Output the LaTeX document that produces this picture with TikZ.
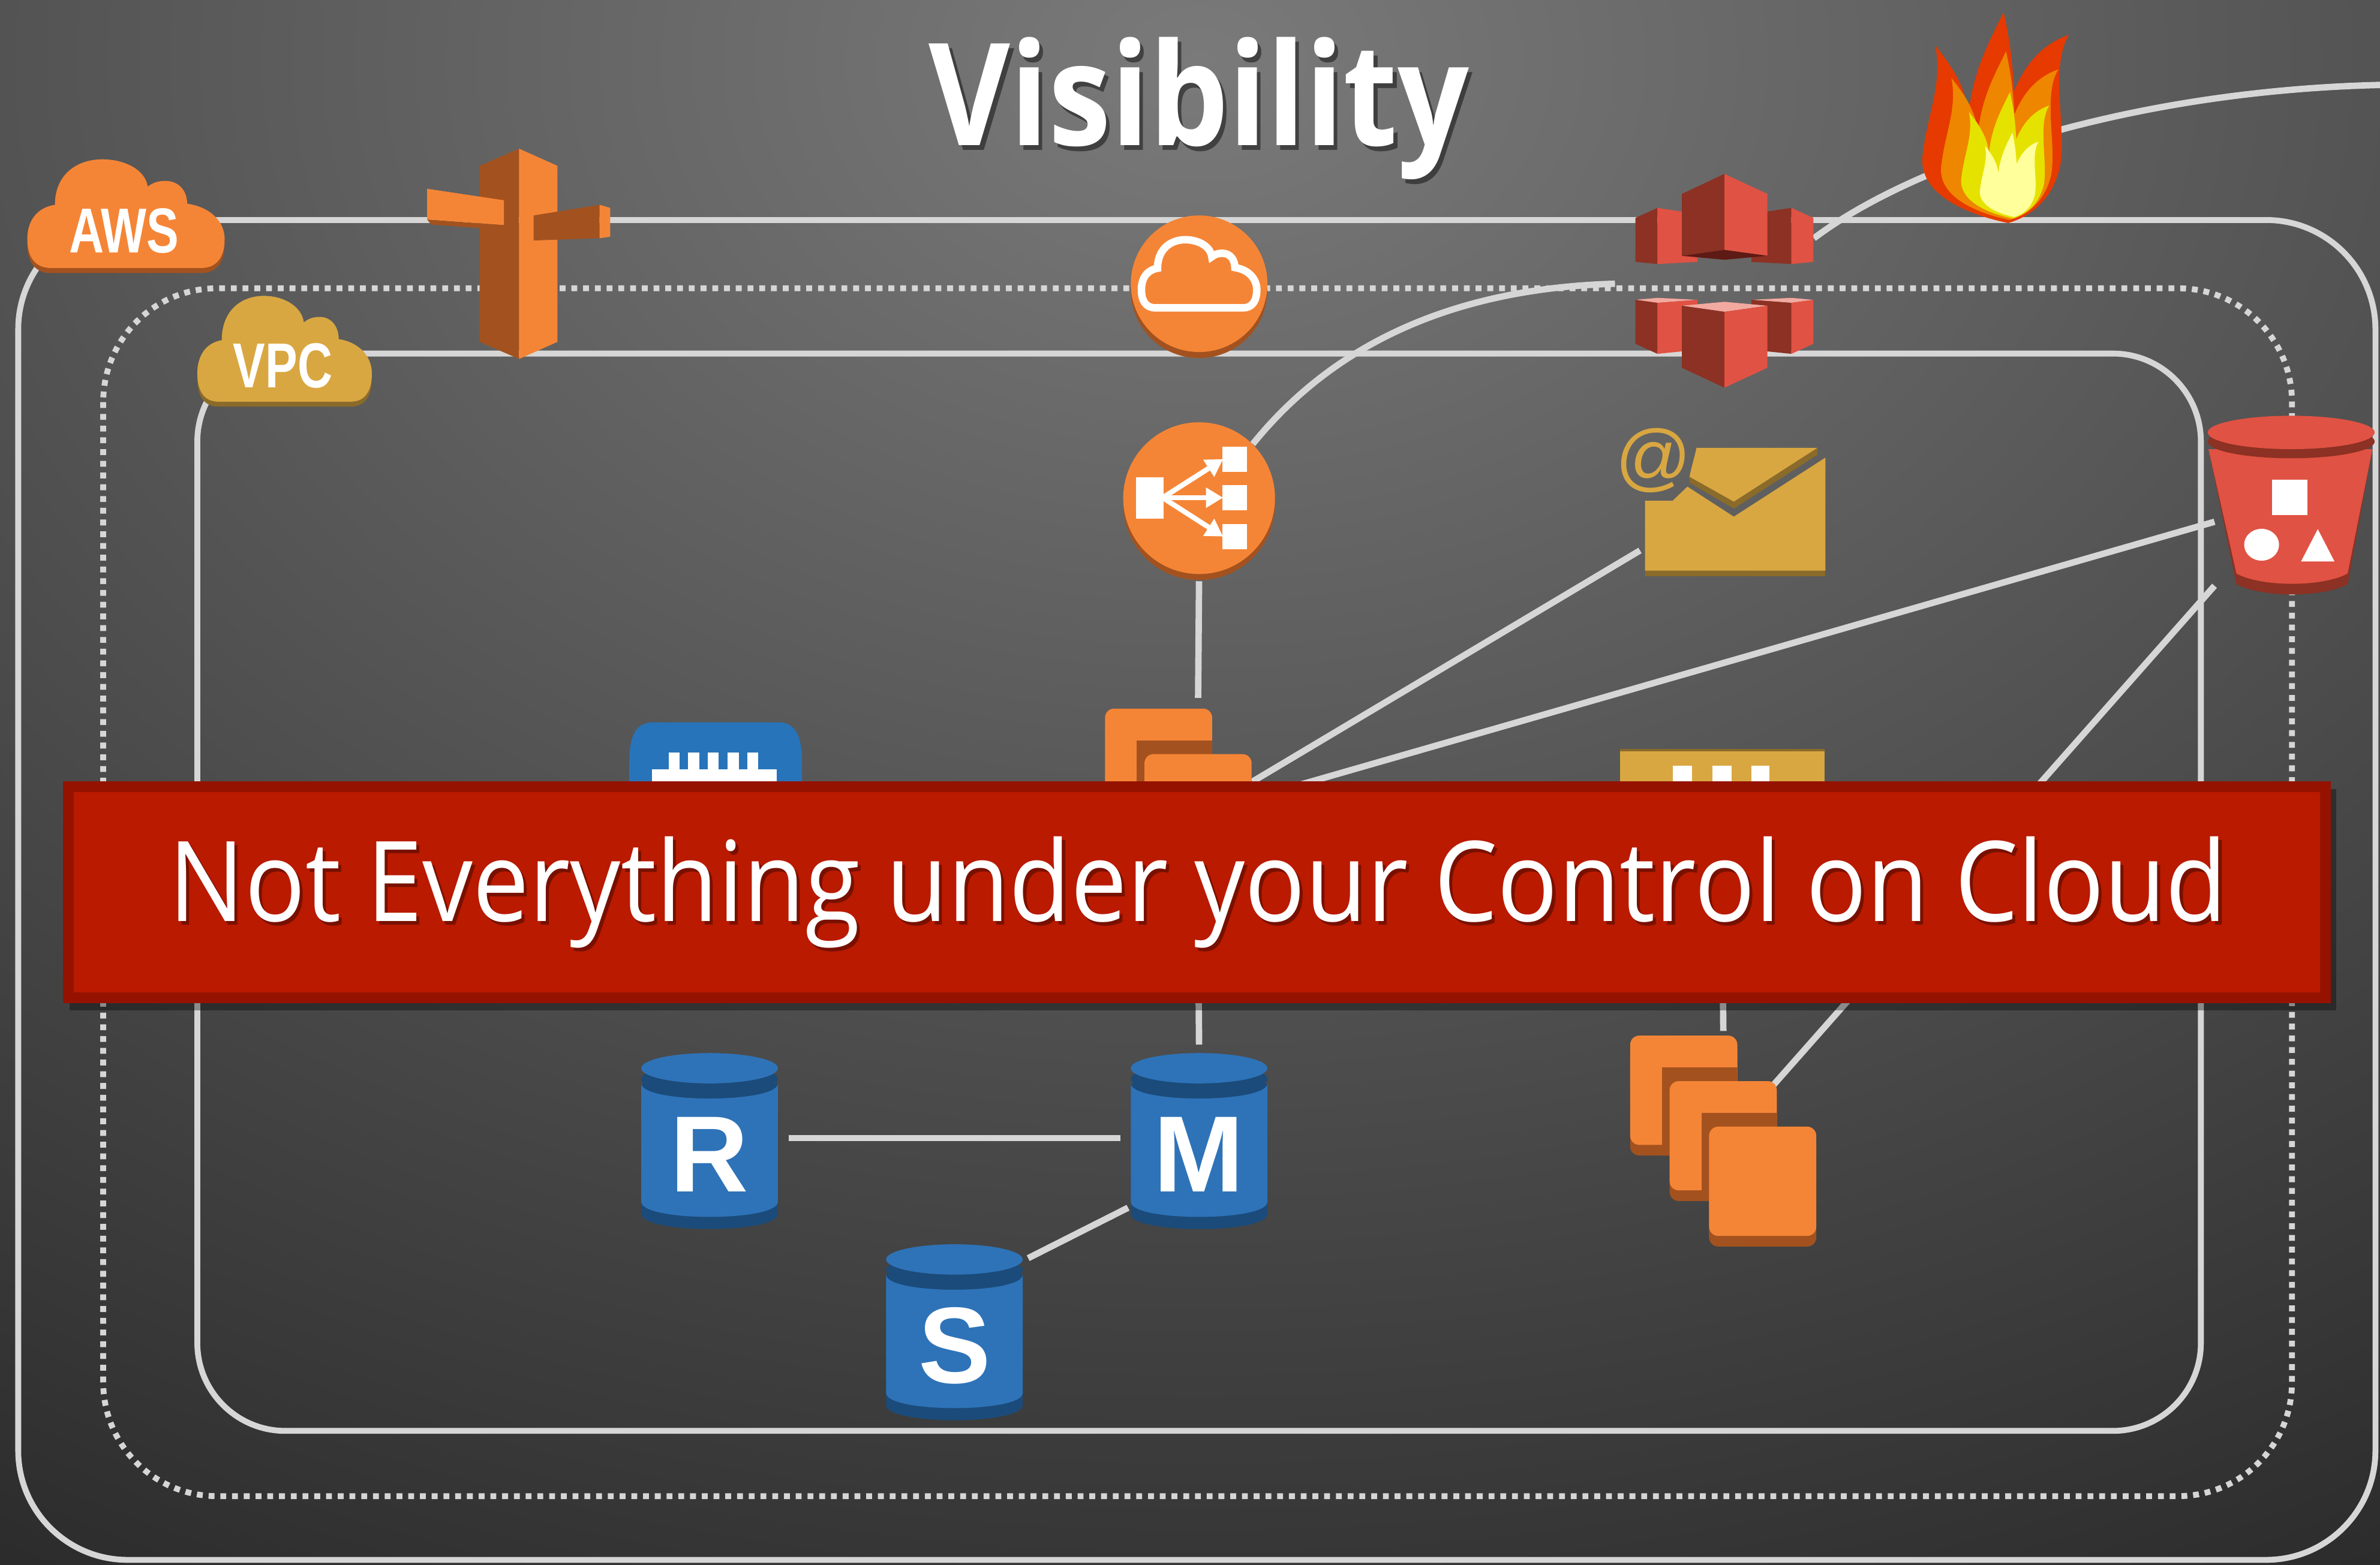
\documentclass[tikz,border=0pt]{standalone}
\usepackage{fontspec}
\setmainfont{Open Sans}
\newfontfamily\slidefont{Open Sans}[FakeStretch=0.88]
\newfontfamily\mottofont{Open Sans}[FakeStretch=0.90]
\newfontfamily\tagfont{Liberation Sans}[FakeStretch=0.76]
\newfontfamily\glyphfont{Liberation Sans}
\usetikzlibrary{arrows.meta}

\definecolor{bgLight}{HTML}{7A7A7A}
\definecolor{bgDark}{HTML}{2B2B2B}
\definecolor{wire}{HTML}{D6D6D6}
\definecolor{awsOrange}{HTML}{F58536}
\definecolor{awsRim}{HTML}{A3521F}
\definecolor{awsGold}{HTML}{D9A741}
\definecolor{goldRim}{HTML}{8A6B2A}
\definecolor{awsRed}{HTML}{E05243}
\definecolor{redRim}{HTML}{8C3123}
\definecolor{redDeep}{HTML}{5E1A14}
\definecolor{redPink}{HTML}{F2A9A0}
\definecolor{dbBlue}{HTML}{2E73B8}
\definecolor{dbRim}{HTML}{1B4B7A}
\definecolor{vpnBlue}{HTML}{2774BA}
\definecolor{bannerRed}{HTML}{B91A00}
\definecolor{bannerEdge}{HTML}{951200}
\definecolor{fireRed}{HTML}{E63A00}
\definecolor{fireOrange}{HTML}{EE8600}
\definecolor{fireYellow}{HTML}{E6E200}
\definecolor{firePale}{HTML}{FFFF9C}

\tikzset{
  % unit cloud, top left at (0,0), y pointing down
  puff/.style={insert path={(0.12,0.955) .. controls (0.04,0.955) and (0,0.86) .. (0,0.70)
    .. controls (0,0.52) and (0.06,0.42) .. (0.14,0.40)
    .. controls (0.14,0.12) and (0.26,0) .. (0.38,0)
    .. controls (0.50,0) and (0.60,0.10) .. (0.61,0.24)
    .. controls (0.64,0.20) and (0.67,0.19) .. (0.70,0.19)
    .. controls (0.77,0.19) and (0.81,0.28) .. (0.81,0.39)
    .. controls (0.93,0.42) and (1,0.55) .. (1,0.70)
    .. controls (1,0.86) and (0.96,0.955) .. (0.88,0.955) -- cycle}},
  pics/cloudtag/.style n args={3}{code={
    \fill[#2, shift={(0,0.045)}, puff];
    \fill[#1, puff];
    \node[tagtext] (-label) at (0.49,0.63) {#3};
  }},
  pics/flame/.style={code={
    \fill[#1] (0,0) .. controls (-33,-7) and (-61,-22) .. (-56,-47)
      .. controls (-53,-72) and (-43,-92) .. (-48,-117)
      .. controls (-36,-102) and (-28,-89) .. (-26,-72)
      .. controls (-23,-102) and (-11,-122) .. (-3,-139)
      .. controls (2,-117) and (3,-102) .. (4,-87)
      .. controls (12,-107) and (25,-119) .. (40,-124)
      .. controls (27,-102) and (39,-62) .. (34,-36)
      .. controls (29,-17) and (17,-5) .. (0,0) -- cycle;
  }},
  pics/instances/.style={code={
    \fill[awsRim, rounded corners=1.7pt] (0,7) rectangle ++(70.6,72);
    \fill[awsOrange, rounded corners=1.7pt] (0,0) rectangle ++(70.6,72);
    \foreach \k in {1,2} {
      \begin{scope}
        \clip[rounded corners=1.7pt] (26*\k-26,30*\k-30) rectangle ++(70.6,79);
        \fill[awsRim] (26*\k-5,30*\k-9) rectangle ++(70.6,79);
      \end{scope}
      \fill[awsRim, rounded corners=1.7pt] (26*\k,30*\k+7) rectangle ++(70.6,72);
      \fill[awsOrange, rounded corners=1.7pt] (26*\k,30*\k) rectangle ++(70.6,72);
    }
  }},
  pics/dbcyl/.style={code={
    \fill[dbRim] (-45,10) -- (45,10) -- (45,96) .. controls (45,109.3) and (-45,109.3) .. (-45,96) -- cycle;
    \fill[dbBlue] (-45,10) .. controls (-45,23.3) and (45,23.3) .. (45,10)
      -- (45,88) .. controls (45,101.3) and (-45,101.3) .. (-45,88) -- cycle;
    \fill[dbRim] (0,7) ellipse [x radius=45, y radius=10];
    \fill[dbBlue] (0,0) ellipse [x radius=45, y radius=10];
    \node[dbletter] (-letter) at (0,57) {#1};
  }},
}

\begin{document}
\begin{tikzpicture}[x=0.01cm, y=-0.01cm,
    frame/.style={draw=wire, line width=1.1pt},
    zone/.style={draw=wire, line width=1.1pt, dash pattern=on 1.1pt off 1.1pt},
    link/.style={draw=wire, line width=1.2pt},
    spot/.style={inner sep=0pt, outer sep=0pt},
    dbspot/.style={spot, minimum width=0.9cm, minimum height=1.17cm},
    tagtext/.style={text=white, inner sep=0pt, font=\tagfont\bfseries\fontsize{11.9}{12}\selectfont},
    dbletter/.style={text=white, inner sep=0pt, font=\glyphfont\bfseries\fontsize{20.3}{22}\selectfont},
    headline/.style={text=white, inner sep=0pt, font=\slidefont\bfseries\fontsize{26.7}{30}\selectfont},
    bannerline/.style={text=white, inner sep=0pt, font=\mottofont\fontsize{20.9}{24}\selectfont}]
  \useasboundingbox (0,0) rectangle (1568,1031);

  % backdrop
  \begin{scope}
    \clip (0,0) rectangle (1568,1031);
    \shade[inner color=bgLight, outer color=bgDark] (790,40) ellipse [x radius=1600, y radius=1150];
  \end{scope}

  % aws, zone and vpc borders
  \draw[frame, rounded corners=0.72cm] (12,145) rectangle (1565,1028);
  \draw[zone, rounded corners=0.75cm] (68,190) rectangle (1510,986);
  \draw[frame, rounded corners=0.58cm] (130,233) rectangle (1450,943);

  % where the connectors attach
  \node[spot, circle, minimum size=1cm] (elb) at (790,328) {};
  \node[spot, minimum width=1.226cm, minimum height=1.39cm] (inst) at (789.3,536.5) {};
  \node[spot, minimum width=1.1cm, minimum height=1cm] (mail) at (1135.5,330) {};
  \node[spot, minimum width=1cm, minimum height=1.15cm] (bucket) at (1509,329.5) {};
  \node[spot, minimum width=1.35cm, minimum height=0.93cm] (queue) at (1134.5,540) {};
  \node[spot, minimum width=1.228cm, minimum height=1.398cm] (ec2) at (1135.4,752.4) {};
  \node[spot, minimum width=1.18cm, minimum height=0.6cm] (stackTop) at (1136,144.5) {};
  \node[dbspot] (dbR) at (467.5,750) {};
  \node[dbspot] (dbM) at (790,750) {};
  \node[dbspot] (dbS) at (628.8,876) {};
  \coordinate (zoneEdge) at (1064,187);
  \coordinate (farEdge) at (1568,56);

  % connectors
  \draw[link] (stackTop.-12) .. controls (1260,108) and (1400,60) .. (farEdge);
  \draw[link] (elb.45) .. controls (880,225) and (960,190) .. (zoneEdge);
  \draw[link, shorten <=0.05cm, shorten >=0.07cm] (elb.south) -- (inst.north);
  \draw[link] (inst.center) -- (mail);
  \draw[link] (inst.center) -- (bucket);
  \draw[link] (bucket) -- (ec2.center);
  \draw[link, shorten >=0.03cm] (queue.south) -- (ec2.north);
  \draw[link, shorten >=0.03cm] (inst.south) -- (dbM.north);
  \draw[link, shorten <=0.07cm, shorten >=0.07cm] (dbR) -- (dbM);
  \draw[link, shorten <=0.02cm, shorten >=0.04cm] (dbM.225) -- (dbS.45);

  % aws and vpc tags
  \pic[shift={(18,105)}, xscale=130, yscale=75] (awsTag) {cloudtag={awsOrange}{awsRim}{AWS}};
  \pic[shift={(130,195)}, xscale=115, yscale=73] (vpcTag) {cloudtag={awsGold}{goldRim}{VPC}};

  % signpost
  \fill[awsRim] (342,98) -- (316,109.3) -- (316,225.3) -- (342,236.6) -- cycle;
  \fill[awsOrange] (342,98) -- (367.3,109.3) -- (367.3,225.3) -- (342,236.6) -- cycle;
  \fill[awsRim] (281.4,144.6) -- (332,148.3) -- (332,151.5) -- (284,148) -- cycle;
  \fill[awsOrange] (281.4,124.4) -- (332,132) -- (332,148.3) -- (281.4,144.6) -- cycle;
  \fill[awsRim] (351.5,142) -- (395,135) -- (395,157) -- (351.5,158.5) -- cycle;
  \fill[awsOrange] (395,135) -- (402,137) -- (402,156) -- (395,157) -- cycle;

  % cdn disc
  \fill[awsRim] (790,191) circle [radius=45];
  \fill[awsOrange] (790,187) circle [radius=45];
  \begin{scope}[shift={(752,158)}, xscale=76, yscale=47]
    \draw[white, line width=1.4pt, puff];
  \end{scope}

  % load balancer disc
  \fill[awsRim] (790,332.3) circle [radius=50];
  \fill[awsOrange] (790,328.3) circle [radius=50];
  \fill[white] (748.5,314.6) rectangle (766.6,341.8);
  \foreach \y in {294.4,319.7,345.4}
    \fill[white] (805.3,\y) rectangle ++(16.2,16.5);
  \foreach \y in {302.6,328,353.6}
    \draw[white, line width=0.95pt, -{Triangle[length=3.2pt,width=3.6pt]}] (766,328) -- (805.8,\y);

  % red stacks
  \fill[redRim] (1077.5,143.6) -- (1092,137) -- (1092,174) -- (1077.5,172.6) -- cycle;
  \fill[awsRed] (1092,137) -- (1118.3,141) -- (1118.3,172.6) -- (1092,174) -- cycle;
  \fill[redRim] (1153.9,141) -- (1180.2,137) -- (1180.2,174) -- (1153.9,172.6) -- cycle;
  \fill[awsRed] (1180.2,137) -- (1194.7,143.6) -- (1194.7,172.6) -- (1180.2,174) -- cycle;
  \fill[redRim] (1108.1,127.8) -- (1136.1,114.6) -- (1136.1,164.7) -- (1108.1,168.6) -- cycle;
  \fill[awsRed] (1136.1,114.6) -- (1164.4,127.8) -- (1164.4,168.6) -- (1136.1,164.7) -- cycle;
  \fill[redDeep] (1108.1,168.6) -- (1136.1,164.7) -- (1164.4,168.6) -- (1136.1,171.2) -- cycle;

  \fill[redPink] (1077.5,197.6) -- (1092,196.3) -- (1118.3,197.6) -- (1092,199.6) -- cycle;
  \fill[redRim] (1077.5,197.6) -- (1092,199.6) -- (1092,233.2) -- (1077.5,226.6) -- cycle;
  \fill[awsRed] (1092,199.6) -- (1118.3,197.6) -- (1118.3,230.5) -- (1092,233.2) -- cycle;
  \fill[redPink] (1153.9,197.6) -- (1180.2,196.3) -- (1194.7,197.6) -- (1180.2,199.6) -- cycle;
  \fill[redRim] (1153.9,197.6) -- (1180.2,199.6) -- (1180.2,233.2) -- (1153.9,230.5) -- cycle;
  \fill[awsRed] (1180.2,199.6) -- (1194.7,197.6) -- (1194.7,226.6) -- (1180.2,233.2) -- cycle;
  \fill[redPink] (1108.1,201.5) -- (1136.1,198.9) -- (1164.4,201.5) -- (1136.1,205.5) -- cycle;
  \fill[redRim] (1108.1,201.5) -- (1136.1,205.5) -- (1136.1,255.5) -- (1108.1,242.4) -- cycle;
  \fill[awsRed] (1136.1,205.5) -- (1164.4,201.5) -- (1164.4,242.4) -- (1136.1,255.5) -- cycle;

  % fire
  \pic[shift={(1323,147)}] {flame=fireRed};
  \pic[shift={(1324,145)}, scale=0.8] {flame=fireOrange};
  \pic[shift={(1326,144)}, scale=0.6] {flame=fireYellow};
  \pic[shift={(1327,143)}, scale=0.4] {flame=firePale};

  % bucket
  \fill[redRim] (1455,296) -- (1563,296) -- (1546.7,385) .. controls (1530,394) and (1490,394) .. (1473.4,385) -- cycle;
  \fill[awsRed] (1455,296) -- (1563,296) -- (1546.7,378) .. controls (1530,387) and (1490,387) .. (1473.4,378) -- cycle;
  \fill[redRim] (1509.5,291) ellipse [x radius=55, y radius=11];
  \fill[awsRed] (1509.5,285) ellipse [x radius=55, y radius=11];
  \fill[white] (1497,316) rectangle (1520,339.5);
  \fill[white] (1490,359) ellipse [x radius=11.5, y radius=10.5];
  \fill[white] (1516,370) -- (1538,370) -- (1527,348.7) -- cycle;

  % mail
  \fill[goldRim] (1083.8,372) rectangle (1202.6,379.6);
  \fill[awsGold] (1083.8,330) -- (1102,330) -- (1111.7,320.7) -- (1142.3,340.5) -- (1202.6,301.6)
    -- (1202.6,376.1) -- (1083.8,376.1) -- cycle;
  \fill[goldRim] (1113.1,314.2) -- (1142.3,330.6) -- (1197.4,295.1) -- (1197.4,299.7) -- (1142.3,335.2) -- (1113.1,318.1) -- cycle;
  \fill[awsGold] (1117.7,295.1) -- (1197.4,295.1) -- (1142.3,330.6) -- (1113.1,314.2)
    .. controls (1114,309) and (1116,303) .. (1117.7,295.1) -- cycle;
  \node[text=awsGold, inner sep=0pt, font=\glyphfont\fontsize{14}{14}\selectfont] (atSign) at (1089.4,303.6) {@};

  % vpn gateway
  \fill[vpnBlue] (414.6,540) -- (414.6,503) .. controls (414.6,484) and (419,476) .. (431,476)
    -- (512,476) .. controls (524,476) and (528.4,484) .. (528.4,503) -- (528.4,540) -- cycle;
  \fill[white] (429.6,507) rectangle (511.8,540);
  \foreach \t in {440.6,453.4,466.1,479.5,492.2}
    \fill[white] (\t,496) rectangle ++(7.2,12);

  % queue
  \fill[awsGold] (1067.2,493.7) rectangle (1201.9,540);
  \fill[goldRim] (1067.2,493.7) rectangle (1201.9,495.2);
  \foreach \b/\w in {1102/12.8,1128.2/12.6,1153.7/12.1}
    \fill[white] (\b,504.5) rectangle ++(\w,36);

  % instances
  \pic (webTier) at (728,467) {instances};
  \pic (appTier) at (1074,682.5) {instances};

  % databases
  \pic (rdb) at (467.5,704) {dbcyl=R};
  \pic (mdb) at (790,704) {dbcyl=M};
  \pic (sdb) at (628.8,830) {dbcyl=S};

  % banner
  \fill[black, opacity=0.35] (46,520) rectangle (1539,666);
  \node[spot, fill=bannerRed, draw=bannerEdge, line width=1.99pt,
        minimum width=14.86cm, minimum height=1.39cm] (banner) at (788.5,588) {};
  \node[bannerline, text=black, opacity=0.35, anchor=base] (mottoShadow) at (791.4,609.5) {Not Everything under your Control on Cloud};
  \node[bannerline, anchor=base] (motto) at (789.4,607) {Not Everything under your Control on Cloud};

  % heading
  \node[headline, text=black, opacity=0.45, anchor=base] (titleShadow) at (792.5,99) {Visibility};
  \node[headline, anchor=base] (title) at (790,96) {Visibility};
\end{tikzpicture}
\end{document}
